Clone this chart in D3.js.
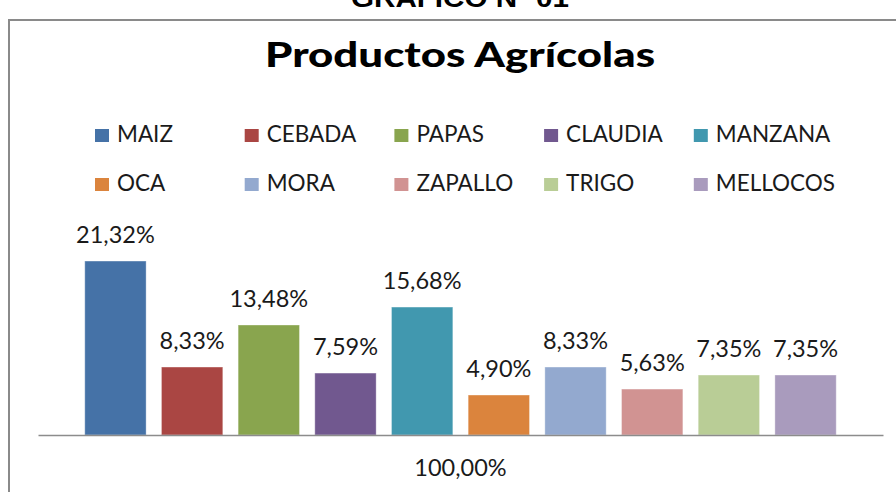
<!DOCTYPE html>
<html lang="es">
<head>
  <meta charset="UTF-8">
  <title>Productos Agrícolas</title>
  <style>
    body {
      margin: 0;
      padding: 0;
      background: #fff;
      font-family: Lato, "Open Sans", sans-serif;
    }
  </style>
</head>
<body>
  <svg id="chart" width="896" height="492"></svg>
  <script src="https://d3js.org/d3.v7.min.js"></script>
  <script>
    const productos = ['MAIZ', 'CEBADA', 'PAPAS', 'CLAUDIA', 'MANZANA', 'OCA', 'MORA', 'ZAPALLO', 'TRIGO', 'MELLOCOS'];
    const porcentajes = [21.32, 8.33, 13.48, 7.59, 15.68, 4.90, 8.33, 5.63, 7.35, 7.35];
    const colores = ['#4572A7', '#AA4643', '#89A54E', '#71588F', '#4198AF', '#DB843D', '#93A9CF', '#D19392', '#B9CD96', '#A99BBD'];
    const categoria = ['100,00%'];

    const svg = d3.select('#chart');
    const fmt = v => d3.format('.2f')(v).replace('.', ',') + '%';

    // heading above the frame (cut off by the page top, as in the original)
    svg.append('text')
      .attr('x', 460)
      .attr('y', 7)
      .attr('text-anchor', 'middle')
      .attr('textLength', 218)
      .attr('lengthAdjust', 'spacingAndGlyphs')
      .style('font-family', '"Liberation Sans", Arial, sans-serif')
      .style('font-weight', 'bold')
      .style('font-size', '26px')
      .text('GRÁFICO Nº 01');

    // chart frame
    svg.append('rect')
      .attr('x', 9)
      .attr('y', 20)
      .attr('width', 920)
      .attr('height', 500)
      .attr('fill', 'none')
      .attr('stroke', '#8a8a8a')
      .attr('stroke-width', 2);

    // Title
    svg.append('text')
      .attr('x', 460)
      .attr('y', 67)
      .attr('text-anchor', 'middle')
      .attr('textLength', 390)
      .attr('lengthAdjust', 'spacingAndGlyphs')
      .style('font-size', '34px')
      .style('font-weight', '900')
      .attr('fill', '#000')
      .text('Productos Agrícolas');

    // Legend
    const legend = svg.append('g').attr('class', 'legend');
    const item = legend.selectAll('g')
      .data(productos)
      .enter()
      .append('g')
      .attr('transform', (d, i) => `translate(${95 + (i % 5) * 149.7}, ${i < 5 ? 142 : 191})`);

    item.append('rect')
      .attr('x', 0)
      .attr('y', -13)
      .attr('width', 14)
      .attr('height', 13)
      .attr('fill', (d, i) => colores[i]);

    item.append('text')
      .attr('x', 22)
      .attr('y', 0)
      .style('font-size', '22.5px')
      .attr('fill', '#1a1a1a')
      .text(d => d);

    // Bars
    const x0 = d3.scaleBand()
      .domain(categoria)
      .range([38, 883]);

    const x = d3.scaleBand()
      .domain(productos)
      .range([0, x0.bandwidth()])
      .paddingInner(0.2)
      .paddingOuter(0.61);

    const y = d3.scaleLinear()
      .domain([0, 25])
      .range([435, 231]);

    const plot = svg.append('g')
      .attr('transform', `translate(${x0(categoria[0])}, 0)`);

    plot.selectAll('.bar')
      .data(productos)
      .enter()
      .append('rect')
      .attr('class', 'bar')
      .attr('x', d => x(d))
      .attr('y', (d, i) => y(porcentajes[i]))
      .attr('width', x.bandwidth())
      .attr('height', (d, i) => y(0) - y(porcentajes[i]))
      .attr('fill', (d, i) => colores[i])
      .attr('stroke', 'rgba(255,255,255,0.35)')
      .attr('stroke-width', 1);

    // Data labels
    plot.selectAll('.label')
      .data(productos)
      .enter()
      .append('text')
      .attr('class', 'label')
      .attr('x', d => x(d) + x.bandwidth() / 2)
      .attr('y', (d, i) => y(porcentajes[i]) - 18)
      .attr('text-anchor', 'middle')
      .style('font-size', '23.5px')
      .attr('fill', '#1a1a1a')
      .text((d, i) => fmt(porcentajes[i]));

    // X axis
    const xAxis = d3.axisBottom(x0).tickSize(0).tickPadding(24);
    const axisG = svg.append('g')
      .attr('transform', 'translate(0, 435)')
      .call(xAxis);
    axisG.select('.domain')
      .attr('stroke', '#8c8c8c')
      .attr('stroke-width', 1.5);
    axisG.selectAll('text')
      .style('font-family', 'Lato, sans-serif')
      .style('font-size', '23.5px')
      .attr('fill', '#1a1a1a');
  </script>
</body>
</html>
